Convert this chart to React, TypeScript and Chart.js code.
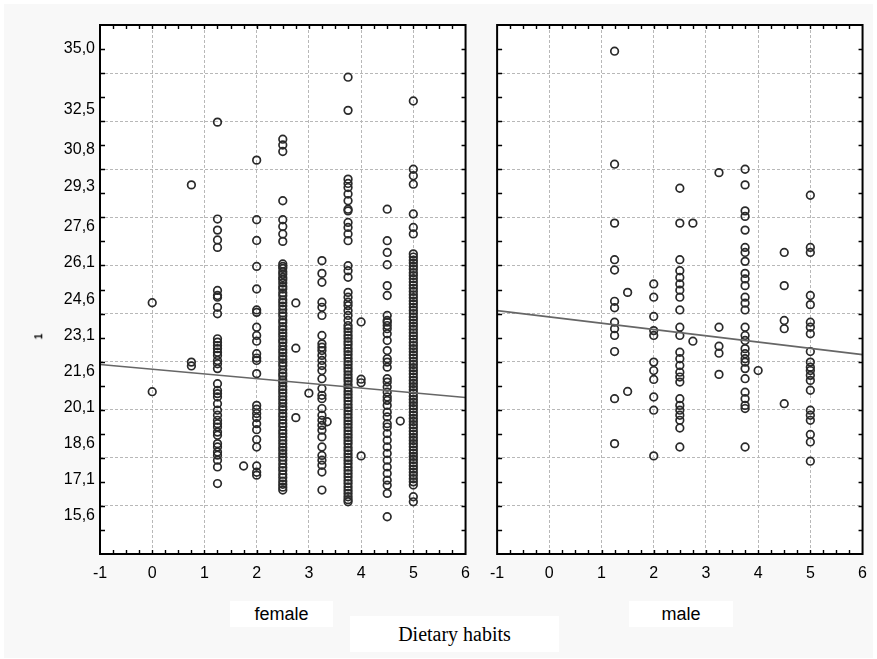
import React, { useEffect, useRef } from "react";
import { Chart, registerables } from "chart.js";

Chart.register(...registerables);

// ---------- axis definitions ----------
const xTickValues = [-1, 0, 1, 2, 3, 4, 5, 6];
const xTickLabels = ["-1", "0", "1", "2", "3", "4", "5", "6"];
const yGridValues = [16, 18, 20, 22, 24, 26, 28, 30, 32, 34];
const yTickValues = [15.6, 17.1, 18.6, 20.1, 21.6, 23.1, 24.6, 26.1, 27.6, 29.3, 30.8, 32.5, 35.0];
const yTickLabels = ["15,6", "17,1", "18,6", "20,1", "21,6", "23,1", "24,6", "26,1", "27,6", "29,3", "30,8", "32,5", "35,0"];
const yMin = 14;
const yMax = 36;
const xMin = -1;
const xMax = 6;

// ---------- female panel ----------
const femaleX0 = [24.45, 20.75];
const femaleX075 = [29.35, 21.98, 21.82];
const femaleX125 = [31.96, 27.93, 27.47, 27.06, 26.75, 24.96, 24.75, 24.68, 24.26, 23.99, 22.95, 22.81, 22.67, 22.54, 22.39, 22.26, 22.05, 21.91, 21.71, 21.08, 20.8, 20.67, 20.53, 20.25, 19.98, 19.77, 19.56, 19.42, 19.28, 19.07, 18.94, 18.59, 18.45, 18.24, 18.11, 17.9, 17.62, 16.93];
const femaleX175 = [17.66];
const femaleX2 = [30.38, 27.9, 27.04, 25.96, 25.02, 24.15, 24.05, 23.43, 23.09, 22.85, 22.33, 22.15, 22.05, 21.5, 20.18, 20.02, 19.84, 19.67, 19.42, 19.17, 18.76, 18.45, 17.66, 17.4, 17.28];
const femaleX25 = [31.25, 31.01, 30.74, 28.69, 27.9, 27.62, 27.31, 27.0, 26.06, 25.96, 25.88, 25.74, 25.63, 25.5, 25.41, 25.27, 25.12, 25.02, 24.86, 24.74, 24.57, 24.45, 24.31, 24.17, 24.02, 23.9, 23.73, 23.62, 23.46, 23.33, 23.19, 23.06, 22.91, 22.8, 22.64, 22.49, 22.37, 22.22, 22.1, 21.95, 21.83, 21.66, 21.52, 21.4, 21.24, 21.12, 20.97, 20.83, 20.7, 20.55, 20.41, 20.27, 20.12, 20.0, 19.84, 19.72, 19.57, 19.43, 19.3, 19.14, 19.01, 18.87, 18.72, 18.58, 18.44, 18.31, 18.17, 18.03, 17.9, 17.74, 17.6, 17.47, 17.32, 17.18, 17.03, 16.9, 16.78, 16.66];
const femaleX275 = [24.44, 22.56, 19.67];
const femaleX3 = [20.69];
const femaleX325 = [26.2, 25.67, 25.3, 24.47, 24.26, 23.92, 23.09, 22.74, 22.6, 22.46, 22.26, 22.05, 21.84, 21.63, 21.29, 20.88, 20.6, 20.46, 20.05, 19.77, 19.56, 19.35, 19.15, 18.87, 18.45, 18.1, 17.9, 17.69, 17.41, 16.66];
const femaleX335 = [19.5];
const femaleX375 = [33.83, 32.45, 29.59, 29.41, 29.24, 28.97, 28.69, 28.34, 28.27, 27.79, 27.58, 27.31, 27.03, 25.99, 25.78, 25.51, 24.88, 24.68, 24.47, 24.33, 24.12, 23.92, 23.71, 23.5, 23.38, 23.24, 23.1, 22.97, 22.83, 22.7, 22.55, 22.42, 22.29, 22.14, 22.0, 21.87, 21.73, 21.6, 21.45, 21.32, 21.19, 21.04, 20.91, 20.77, 20.63, 20.5, 20.36, 20.22, 20.08, 19.95, 19.81, 19.67, 19.53, 19.4, 19.26, 19.12, 18.98, 18.85, 18.71, 18.58, 18.43, 18.3, 18.16, 18.02, 17.89, 17.75, 17.61, 17.47, 17.34, 17.2, 17.06, 16.93, 16.79, 16.65, 16.52, 16.38, 16.26, 16.17];
const femaleX4 = [23.65, 21.27, 21.12, 18.08];
const femaleX45 = [28.34, 27.03, 26.54, 26.03, 25.16, 24.75, 23.92, 23.71, 23.64, 23.5, 23.37, 23.16, 22.88, 22.46, 22.12, 21.98, 21.77, 21.29, 21.15, 20.94, 20.73, 20.53, 20.39, 20.18, 19.9, 19.7, 19.42, 19.28, 19.01, 18.73, 18.45, 18.18, 17.9, 17.62, 17.35, 17.07, 16.86, 16.52, 15.55];
const femaleX475 = [19.53];
const femaleX5 = [32.84, 30.0, 29.73, 29.38, 28.14, 27.58, 27.31, 26.48, 26.35, 26.22, 26.1, 25.97, 25.84, 25.7, 25.58, 25.45, 25.31, 25.18, 25.05, 24.92, 24.78, 24.66, 24.52, 24.4, 24.26, 24.13, 24.0, 23.86, 23.73, 23.6, 23.47, 23.34, 23.2, 23.07, 22.94, 22.8, 22.67, 22.54, 22.41, 22.28, 22.15, 22.01, 21.88, 21.75, 21.62, 21.49, 21.35, 21.22, 21.09, 20.96, 20.83, 20.7, 20.56, 20.43, 20.3, 20.17, 20.04, 19.9, 19.77, 19.64, 19.51, 19.38, 19.25, 19.11, 18.98, 18.85, 18.72, 18.59, 18.46, 18.32, 18.19, 18.06, 17.93, 17.8, 17.66, 17.53, 17.4, 17.27, 17.13, 17.0, 16.87, 16.38, 16.17];
const femaleTrend = [21.88, 20.51];

// ---------- male panel ----------
const maleX125 = [34.91, 30.21, 27.76, 26.24, 25.81, 24.51, 24.24, 23.64, 23.37, 23.09, 22.42, 20.46, 18.59];
const maleX15 = [24.88, 20.76];
const maleX2 = [25.23, 24.68, 23.88, 23.29, 23.09, 21.98, 21.63, 21.26, 20.53, 19.98, 18.08];
const maleX25 = [29.21, 27.76, 26.24, 25.78, 25.5, 25.23, 24.97, 24.68, 24.15, 23.43, 23.09, 22.39, 22.12, 21.84, 21.56, 21.36, 21.15, 20.46, 20.18, 19.98, 19.77, 19.56, 19.24, 18.45];
const maleX275 = [27.76, 22.85];
const maleX325 = [29.86, 23.43, 22.64, 22.35, 21.47];
const maleX375 = [30.0, 29.35, 28.27, 28.04, 27.47, 26.75, 26.54, 26.17, 25.67, 25.44, 25.16, 24.68, 24.43, 24.15, 23.43, 23.09, 22.88, 22.54, 22.33, 22.12, 21.98, 21.71, 21.29, 20.73, 20.46, 20.18, 20.05, 18.45];
const maleX4 = [21.63];
const maleX45 = [26.54, 25.16, 23.71, 23.37, 20.25];
const maleX5 = [28.92, 26.75, 26.54, 24.75, 24.37, 23.64, 23.43, 23.16, 22.42, 21.98, 21.77, 21.63, 21.43, 21.22, 20.81, 19.98, 19.77, 19.56, 18.97, 18.66, 17.86];
const maleTrend = [24.12, 22.29];

const trendX = [-1, 6];

const femaleColumns: [number, number[]][] = [
  [0, femaleX0], [0.75, femaleX075], [1.25, femaleX125], [1.75, femaleX175], [2, femaleX2],
  [2.5, femaleX25], [2.75, femaleX275], [3, femaleX3], [3.25, femaleX325], [3.35, femaleX335],
  [3.75, femaleX375], [4, femaleX4], [4.5, femaleX45], [4.75, femaleX475], [5, femaleX5],
];
const maleColumns: [number, number[]][] = [
  [1.25, maleX125], [1.5, maleX15], [2, maleX2], [2.5, maleX25], [2.75, maleX275],
  [3.25, maleX325], [3.75, maleX375], [4, maleX4], [4.5, maleX45], [5, maleX5],
];

const FONT = "'Liberation Sans', Arial, sans-serif";
const SERIF = "'Liberation Serif', 'Times New Roman', serif";
const GRID = "#b8b8b8";
const NONE = "rgba(0,0,0,0)";

const framePlugin = {
  id: "frame",
  beforeDraw(chart: any) {
    const { ctx, chartArea: a } = chart;
    ctx.save();
    ctx.fillStyle = "#ffffff";
    ctx.fillRect(a.left, a.top, a.right - a.left, a.bottom - a.top);
    ctx.restore();
  },
  afterDraw(chart: any) {
    const { ctx, chartArea: a, scales } = chart;
    const x = scales.x;
    const y = scales.y;
    ctx.save();
    ctx.strokeStyle = "#000";
    ctx.lineWidth = 1.4;
    ctx.beginPath();
    for (let v = xMin + 0.25; v < xMax; v += 0.25) {
      const px = Math.round(x.getPixelForValue(v)) + 0.5;
      ctx.moveTo(px, a.top);
      ctx.lineTo(px, a.top + 4);
      ctx.moveTo(px, a.bottom);
      ctx.lineTo(px, a.bottom - 4);
    }
    for (let v = yMin + 1; v < yMax; v += 1) {
      const py = Math.round(y.getPixelForValue(v)) + 0.5;
      ctx.moveTo(a.left, py);
      ctx.lineTo(a.left + 5, py);
      ctx.moveTo(a.right, py);
      ctx.lineTo(a.right - 4, py);
    }
    ctx.stroke();
    ctx.lineWidth = 2;
    ctx.strokeRect(a.left, a.top, a.right - a.left, a.bottom - a.top);
    ctx.restore();
  },
};

function buildConfig(columns: [number, number[]][], trend: number[], isLeft: boolean): any {
  const points: { x: number; y: number }[] = [];
  columns.forEach(([xv, ys]) => ys.forEach((yv) => points.push({ x: xv, y: yv })));
  const trendPts = trendX.map((xv, i) => ({ x: xv, y: trend[i] }));
  return {
    type: "scatter",
    data: {
      datasets: [
        {
          data: trendPts,
          showLine: true,
          borderColor: "#666",
          borderWidth: 1.6,
          pointRadius: 0,
          fill: false,
        },
        {
          data: points,
          pointRadius: 3.8,
          pointHoverRadius: 3.8,
          borderColor: "#2a2a2a",
          borderWidth: 1.7,
          backgroundColor: NONE,
        },
      ],
    },
    options: {
      animation: false,
      responsive: false,
      events: [],
      layout: {
        padding: isLeft
          ? { left: 8, right: 10, top: 25, bottom: 65 }
          : { left: 15, right: 12, top: 25, bottom: 65 },
      },
      plugins: { legend: { display: false }, tooltip: { enabled: false } },
      scales: {
        x: {
          type: "linear",
          min: xMin,
          max: xMax,
          afterBuildTicks: (s: any) => {
            s.ticks = xTickValues.map((v) => ({ value: v }));
          },
          afterFit: (s: any) => {
            s.height = 40;
          },
          ticks: {
            autoSkip: false,
            maxRotation: 0,
            padding: 10,
            color: "#000",
            font: { family: FONT, size: 16 },
            callback: (v: number) => {
              const i = xTickValues.indexOf(v);
              return i >= 0 ? xTickLabels[i] : "";
            },
          },
          grid: {
            drawTicks: false,
            lineWidth: 1,
            color: (c: any) =>
              c.tick && c.tick.value > xMin && c.tick.value < xMax ? GRID : NONE,
          },
          border: { display: false, dash: [3, 2] },
        },
        y: {
          type: "linear",
          min: yMin,
          max: yMax,
          afterBuildTicks: (s: any) => {
            const all = [...yGridValues, ...yTickValues].sort((a, b) => a - b);
            s.ticks = all.map((v) => ({ value: v }));
          },
          afterFit: (s: any) => {
            s.width = isLeft ? 92 : 0;
          },
          ticks: {
            display: isLeft,
            autoSkip: false,
            padding: 5,
            color: "#000",
            font: { family: FONT, size: 16 },
            callback: (v: number) => {
              const i = yTickValues.indexOf(v);
              return i >= 0 ? yTickLabels[i] : "";
            },
          },
          grid: {
            drawTicks: false,
            lineWidth: 1,
            color: (c: any) => (c.tick && yGridValues.indexOf(c.tick.value) >= 0 ? GRID : NONE),
          },
          border: { display: false, dash: [3, 2] },
        },
      },
    },
    plugins: [framePlugin],
  };
}

export default function App() {
  const leftRef = useRef<HTMLCanvasElement | null>(null);
  const rightRef = useRef<HTMLCanvasElement | null>(null);

  useEffect(() => {
    const c1 = new Chart(leftRef.current as HTMLCanvasElement, buildConfig(femaleColumns, femaleTrend, true));
    const c2 = new Chart(rightRef.current as HTMLCanvasElement, buildConfig(maleColumns, maleTrend, false));
    return () => {
      c1.destroy();
      c2.destroy();
    };
  }, []);

  const box: React.CSSProperties = {
    position: "absolute",
    background: "#fff",
    display: "flex",
    alignItems: "center",
    justifyContent: "center",
    color: "#000",
  };

  return (
    <div
      style={{
        position: "fixed",
        left: 0,
        top: 0,
        width: 877,
        height: 659,
        background: "#f8f8f8",
        boxSizing: "border-box",
        borderTop: "4px solid #fff",
        borderLeft: "4px solid #fff",
        borderRight: "4px solid #fff",
        borderBottom: "1px solid #fff",
        overflow: "hidden",
      }}
    >
      <canvas
        ref={leftRef}
        width={480}
        height={659}
        style={{ position: "absolute", left: -4, top: -4, width: 480, height: 659 }}
      />
      <canvas
        ref={rightRef}
        width={397}
        height={659}
        style={{ position: "absolute", left: 476, top: -4, width: 397, height: 659 }}
      />
      <div
        style={{
          position: "absolute",
          left: 32,
          top: 327,
          fontFamily: FONT,
          fontSize: 10,
          fontWeight: "bold",
          transform: "rotate(-90deg)",
          color: "#000",
        }}
      >
        1
      </div>
      <div style={{ ...box, left: 226, top: 597, width: 103, height: 26, fontFamily: FONT, fontSize: 18 }}>female</div>
      <div style={{ ...box, left: 625, top: 597, width: 104, height: 26, fontFamily: FONT, fontSize: 18 }}>male</div>
      <div style={{ ...box, left: 346, top: 612, width: 209, height: 36, fontFamily: SERIF, fontSize: 20 }}>
        Dietary habits
      </div>
    </div>
  );
}
